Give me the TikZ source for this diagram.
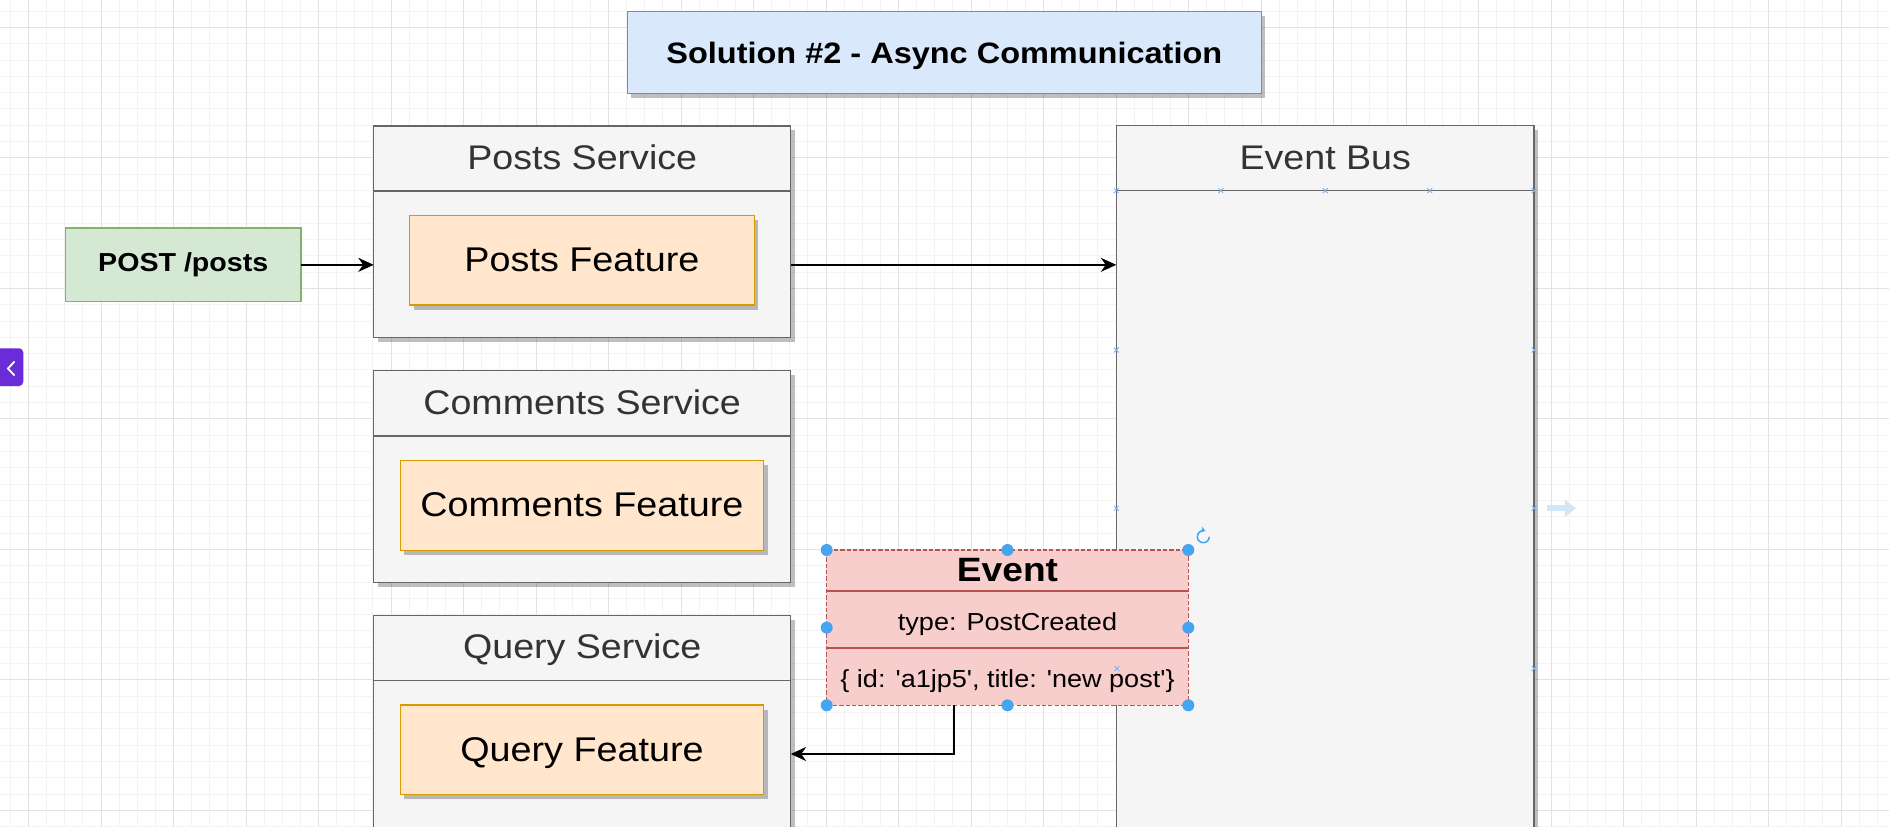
\documentclass[tikz,border=0pt]{standalone}
\usepackage{fontspec}
\setmainfont[FakeStretch=1.1]{Liberation Sans}
\newfontfamily\rawfont[FakeStretch=1.1, Ligatures=TeXOff]{Liberation Sans}
\usetikzlibrary{arrows.meta,shadows,calc}
\newlength\pxu
\setlength\pxu{0.025cm}
\definecolor{svcfill}{HTML}{F5F5F5}
\definecolor{svcline}{HTML}{666666}
\definecolor{svctext}{HTML}{333333}
\definecolor{featfill}{HTML}{FFE6CC}
\definecolor{featline}{HTML}{D79B00}
\definecolor{evfill}{HTML}{F8CECC}
\definecolor{evline}{HTML}{B85450}
\definecolor{titfill}{HTML}{DAE8FC}
\definecolor{titline}{HTML}{6C8EBF}
\definecolor{postfill}{HTML}{D5E8D4}
\definecolor{postline}{HTML}{82B366}
\definecolor{gridminor}{HTML}{F3F3F3}
\definecolor{gridmajor}{HTML}{E2E2E2}
\definecolor{handle}{HTML}{45A5F0}
\definecolor{tabpurple}{HTML}{6A2BD8}
\definecolor{faintblue}{HTML}{D2E6F7}
\definecolor{tickblue}{HTML}{7FB2E5}
\tikzset{
  sz/.style 2 args={minimum width=#1*\pxu, minimum height=#2*\pxu, inner sep=0pt, outer sep=0pt},
  shad/.style={drop shadow={shadow xshift=2.8pt, shadow yshift=-3.2pt, fill=black, opacity=0.25}},
  svc/.style={draw=svcline, fill=svcfill, line width=1.1pt, shad},
  svcsep/.style={draw=svcline, line width=1.1pt},
  feat/.style={draw=featline, fill=featfill, line width=1.1pt, shad},
  titlebox/.style={draw=titline, fill=titfill, line width=1.1pt, shad},
  postbox/.style={draw=postline, fill=postfill, line width=1.1pt},
  evbox/.style={draw=evline, fill=evfill, line width=1pt, dash pattern=on 3pt off 1.5pt},
  evsep/.style={draw=evline, line width=1.3pt},
  txt/.style={anchor=base, inner sep=0pt, outer sep=0pt},
  hdrtext/.style={txt, text=svctext, font=\fontsize{24.3pt}{29pt}\selectfont},
  feattext/.style={txt, text=black, font=\fontsize{24.4pt}{29pt}\selectfont},
  titletext/.style={txt, text=black, font=\fontsize{21pt}{25pt}\selectfont\bfseries},
  posttext/.style={txt, text=black, font=\fontsize{18.5pt}{22pt}\selectfont\bfseries},
  evtitle/.style={txt, text=black, font=\fontsize{24pt}{29pt}\selectfont\bfseries},
  evtext/.style={txt, text=black, font=\rawfont\fontsize{17.5pt}{21pt}\selectfont},
  conn/.style={draw=black, line width=1pt, -{Stealth[length=11pt, width=10pt, inset=3.5pt]}},
  gminor/.style={draw=gridminor, line width=0.6pt},
  gmajor/.style={draw=gridmajor, line width=0.7pt},
  tick/.style={draw=tickblue, line width=0.6pt},
}
\begin{document}
\begin{tikzpicture}[x=0.025cm, y=-0.025cm]
\useasboundingbox (0,0) rectangle (1889,827);
\clip (0,0) rectangle (1889,827);
\fill[white] (0,0) rectangle (1889,827);
% grid
\foreach \i in {0,...,104} \draw[gminor] ({10.375+18.125*\i},0) -- ({10.375+18.125*\i},827);
\foreach \i in {0,...,50} \draw[gminor] (0,{10.9875+16.3125*\i}) -- (1889,{10.9875+16.3125*\i});
\foreach \i in {0,...,25} \draw[gmajor] ({28.5+72.5*\i},0) -- ({28.5+72.5*\i},827);
\foreach \i in {0,...,6} \draw[gmajor] (0,{27.3+130.5*\i}) -- (1889,{27.3+130.5*\i});

% title
\node[titlebox, sz={634}{81.6}] (title) at (944.3,52.5) {};
\node[titletext] (titlet) at (944.3,63.3) {Solution \#2 - Async Communication};

% services
\node[svc, sz={417}{211.7}] (ps) at (582.2,231.85) {};
\draw[svcsep] ($(ps.north west)+(0,65)$) -- ($(ps.north east)+(0,65)$);
\node[hdrtext] (pst) at (582.2,169.3) {Posts Service};

\node[svc, sz={417}{211.6}] (cs) at (582.2,476.5) {};
\draw[svcsep] ($(cs.north west)+(0,65.3)$) -- ($(cs.north east)+(0,65.3)$);
\node[hdrtext] (cst) at (582.2,414.3) {Comments Service};

\node[svc, sz={417}{240}] (qs) at (582.2,735.7) {};
\draw[svcsep] ($(qs.north west)+(0,65)$) -- ($(qs.north east)+(0,65)$);
\node[hdrtext] (qst) at (582.2,658.3) {Query Service};

\node[svc, sz={417.9}{730}] (bus) at (1325.25,490.7) {};
\draw[svcsep] ($(bus.north west)+(0,65)$) -- ($(bus.north east)+(0,65)$);
\node[hdrtext] (bust) at (1325.25,169.3) {Event Bus};

% features
\node[feat, sz={344.7}{89.3}] (pf) at (581.95,260.35) {};
\node[feattext] (pft) at (581.95,271.7) {Posts Feature};
\node[feat, sz={363.4}{90}] (cf) at (582,505.3) {};
\node[feattext] (cft) at (582,516.7) {Comments Feature};
\node[feat, sz={363.4}{89.7}] (qf) at (582,749.85) {};
\node[feattext] (qft) at (582,761.5) {Query Feature};

% request
\node[postbox, sz={235.7}{73.7}] (post) at (183.25,264.85) {};
\node[posttext] (postt) at (183.25,271.7) {POST /posts};

% event
\node[evbox, sz={361.6}{155.3}] (ev) at (1007.5,627.65) {};
\draw[evsep] ($(ev.north west)+(0,40.7)$) -- ($(ev.north east)+(0,40.7)$);
\draw[evsep] ($(ev.north west)+(0,97.7)$) -- ($(ev.north east)+(0,97.7)$);
\node[evtitle] (evt) at (1007.5,581.7) {Event};
\node[evtext] (evtype) at (1007.5,630) {type: PostCreated};
\node[evtext] (evdata) at (1007.5,687.3) {\{ id: 'a1jp5', title: 'new post'\}};

% connectors
\draw[conn] (post.east) -- (post.east -| ps.west);
\draw[conn] (post.east -| ps.east) -- (post.east -| bus.west);
\coordinate (evdrop) at ($(ev.south west)+(127.4,0)$);
\coordinate (qy) at (0,754);
\draw[conn] (evdrop) |- (qs.east |- qy);

% connection-point ticks on the bus
\foreach \p in {(1116.3,190.7),(1220.8,190.7),(1325.25,190.7),(1429.7,190.7),(1534.2,190.7),
  (1116.3,350),(1534.2,350),(1116.3,508.3),(1534.2,508.3),(1116.8,668.6),(1534.2,668.6)}
  \draw[tick] \p ++(-2.5,-2.5) -- ++(5,5) \p ++(-2.5,2.5) -- ++(5,-5);

% selection handles
\foreach \a in {north west,north,north east,west,east,south west,south,south east}
  \fill[handle] (ev.\a) circle[radius=6];
\coordinate (rot) at (1203.3,536.7);
\draw[handle, line width=1.1pt, -{Stealth[length=3.5pt,width=4.5pt]}] ($(rot)+(6,0)$) arc[start angle=0, end angle=290, radius=6];

% faint hover arrow
\coordinate (fa1) at (1546.7,508.3);
\coordinate (fa2) at (1576,508.3);
\draw[faintblue, line width=4pt, -{Triangle[length=8pt,width=12pt]}] (fa1) -- (fa2);

% side tab
\fill[tabpurple, rounded corners=3pt] (-8,348.3) rectangle (23.3,386);
\draw[white, line width=1.3pt] (14.5,361.5) -- (8,368.5) -- (14.5,375.5);
\end{tikzpicture}
\end{document}
